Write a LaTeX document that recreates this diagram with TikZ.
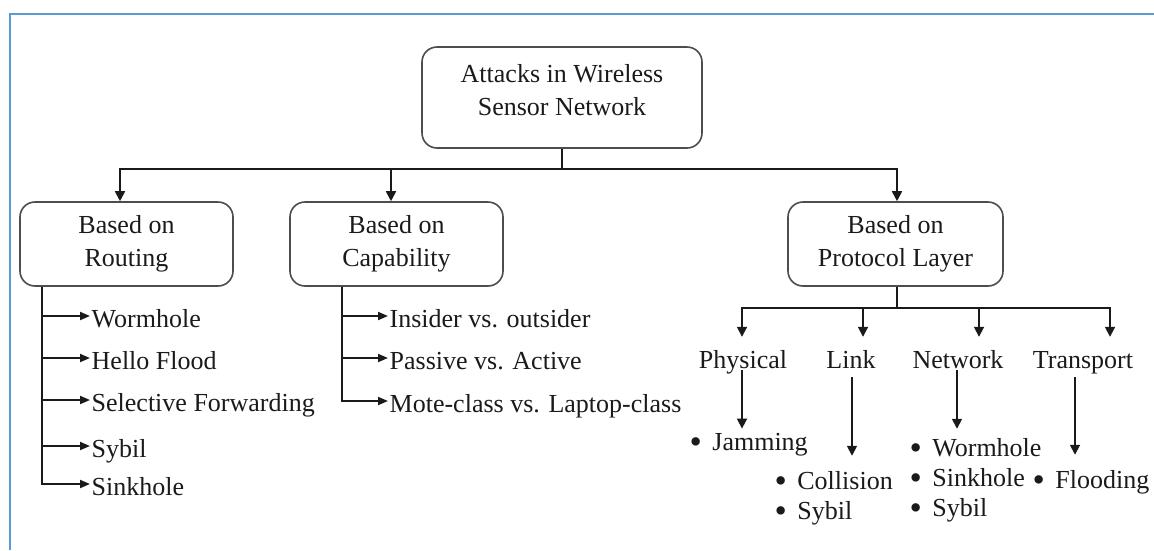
\documentclass[tikz,border=0pt]{standalone}
\usepackage{fontspec}
\setmainfont{Liberation Serif}
\usetikzlibrary{arrows.meta}
\definecolor{framecol}{HTML}{5B9BD5}
\definecolor{inkcol}{HTML}{1A1A1A}
\definecolor{boxcol}{HTML}{4D4D4D}
\newcommand{\itm}{\raisebox{-3.5pt}[0pt][0pt]{\scalebox{1.35}{•}}\hspace{0.4em}}
\begin{document}
\begin{tikzpicture}[x=1pt,y=-1pt,
  font=\fontsize{26}{33}\selectfont, text=inkcol,
  catbox/.style={draw=boxcol,line width=1.6pt,rounded corners=15pt,align=center,
    minimum height=84pt,inner sep=0pt},
  link/.style={draw=inkcol,line width=1.8pt},
  down/.style={link,-{Triangle[length=10pt,width=10pt]}},
  side/.style={link,-{Triangle[length=10pt,width=8pt]}},
  item/.style={anchor=west,inner xsep=1.5pt,inner ysep=0pt,text height=24pt,text depth=2pt},
  layer/.style={inner sep=0pt,text height=31pt,text depth=9pt},
  blist/.style={anchor=base west,align=left,inner sep=0pt,font=\fontsize{26}{30}\selectfont}
]
\useasboundingbox (0,0) rectangle (1154,550);
% page frame
\draw[framecol,line width=2pt] (10,550) -- (10,14) -- (1154,14);

% root and the three categories
\node[catbox,minimum width=280pt,minimum height=101pt] (root) at (562,97.5)
  {\raisebox{5pt}[\height][\depth]{\begin{tabular}{@{}c@{}}Attacks in Wireless\\Sensor Network\end{tabular}}};
\node[catbox,minimum width=213pt] (route) at (126.5,244) {Based on\\Routing};
\node[catbox,minimum width=213pt] (cap) at (396.5,244) {Based on\\Capability};
\node[catbox,minimum width=215pt] (proto) at (895.5,244) {Based on\\Protocol Layer};

\coordinate (bus) at (562,169);
\draw[link] (root.south) -- (bus);
\draw[down] (bus) -| ([xshift=-6.5pt]route.north);
\draw[down] (bus) -| ([xshift=-5.5pt]cap.north);
\draw[down] (bus) -| ([xshift=1.5pt]proto.north);

% routing attacks
\coordinate (rtrunk) at (42,0);
\node[item] (r1) at (90,316) {Wormhole};
\node[item] (r2) at (90,358) {Hello Flood};
\node[item] (r3) at (90,400) {Selective Forwarding};
\node[item] (r4) at (90,446) {Sybil};
\node[item] (r5) at (90,484) {Sinkhole};
\draw[side] (route.south -| rtrunk) |- (r5.west);
\foreach \n in {r1,r2,r3,r4} \draw[side] (rtrunk |- \n.west) -- (\n.west);

% capability attacks
\coordinate (ctrunk) at (342,0);
\node[item] (c1) at (388,316) {Insider vs. outsider};
\node[item] (c2) at (388,358) {Passive vs. Active};
\node[item] (c3) at (388,401) {Mote-class vs. Laptop-class};
\draw[side] (cap.south -| ctrunk) |- (c3.west);
\foreach \n in {c1,c2} \draw[side] (ctrunk |- \n.west) -- (\n.west);

% protocol layers
\coordinate (pbus) at (897,308);
\node[layer] (phys) at (743,357) {Physical};
\node[layer] (lnk) at (851,357) {Link};
\node[layer] (net) at (958,357) {Network};
\node[layer] (tra) at (1083,357) {Transport};
\draw[link] (proto.south -| pbus) -- (pbus);
\draw[down] (pbus) -| ([xshift=-1pt]phys.north);
\draw[down] (pbus) -| ([xshift=12pt]lnk.north);
\draw[down] (pbus) -| ([xshift=21pt]net.north);
\draw[down] (pbus) -| ([xshift=27pt]tra.north);

% attacks per layer (base anchor sits on the last line)
\node[blist] (jam) at (689.5,450) {\itm Jamming};
\node[blist] (ll) at (774.5,519) {\itm Collision\\\itm Sybil};
\node[blist] (nl) at (909.5,516) {\itm Wormhole\\\itm Sinkhole\\\itm Sybil};
\node[blist] (tl) at (1032.5,488) {\itm Flooding};
\draw[down,shorten >=4pt] ([xshift=-1pt,yshift=7pt]phys.south) -- ([xshift=-1pt]phys.south |- jam.north);
\draw[down,shorten >=15pt] ([xshift=1pt]lnk.south) -- ([xshift=1pt]lnk.south |- ll.north);
\draw[down,shorten >=9pt] ([xshift=-1pt,yshift=7pt]net.south) -- ([xshift=-1pt]net.south |- nl.north);
\draw[down,shorten >=15pt] ([xshift=-8pt]tra.south) -- ([xshift=-8pt]tra.south |- tl.north);
\end{tikzpicture}
\end{document}
